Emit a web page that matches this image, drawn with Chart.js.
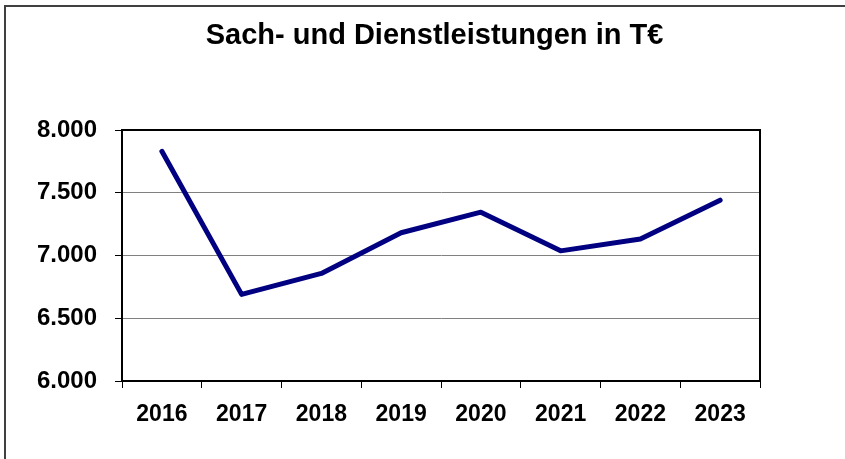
<!DOCTYPE html>
<html>
<head>
<meta charset="utf-8">
<script src="https://cdn.jsdelivr.net/npm/chart.js@4"></script>
<style>
  html, body { margin: 0; padding: 0; background: #fff; overflow: hidden; }
  /* a bit wider than the window so the title lands centred where the reference has it */
  #wrap { position: relative; width: 869px; height: 459px; }
</style>
</head>
<body>
<div id="wrap"><canvas id="c"></canvas></div>
<script>
const title = "Sach- und Dienstleistungen in T€";
const years = ["2016", "2017", "2018", "2019", "2020", "2021", "2022", "2023"];
const values = [7830, 6690, 6857, 7181, 7345, 7037, 7131, 7441];
const yMin = 6000;
const yMax = 8000;
const yStep = 500;

const fontFamily = "'Liberation Sans', Arial, sans-serif";

function fmt(v) {
  return String(v).replace(/\B(?=(\d{3})+(?!\d))/g, ".");
}

// outer frame (top + left) and the black box round the plot
const frame = {
  id: "frame",
  afterDraw(chart) {
    const ctx = chart.ctx;
    const a = chart.chartArea;
    ctx.save();
    ctx.strokeStyle = "#404040";
    ctx.lineWidth = 2;
    ctx.beginPath();
    ctx.moveTo(chart.width, 6);
    ctx.lineTo(5, 6);
    ctx.lineTo(5, 459);
    ctx.stroke();
    ctx.strokeStyle = "#000";
    ctx.lineWidth = 2;
    ctx.strokeRect(a.left, a.top, a.right - a.left, a.bottom - a.top);
    ctx.restore();
  },
};

new Chart(document.getElementById("c"), {
  type: "line",
  data: {
    labels: years,
    datasets: [
      {
        data: values,
        borderColor: "#000080",
        borderWidth: 5,
        pointRadius: 0,
        tension: 0,
        borderCapStyle: "round",
        borderJoinStyle: "round",
      },
    ],
  },
  options: {
    responsive: true,
    maintainAspectRatio: false,
    animation: false,
    layout: { padding: 0 },
    plugins: {
      legend: { display: false },
      tooltip: { enabled: false },
      title: {
        display: true,
        text: title,
        color: "#000",
        font: { family: fontFamily, size: 29, weight: "bold" },
        padding: { top: 18.5, bottom: 76.7 },
      },
    },
    scales: {
      x: {
        offset: true,
        grid: {
          offset: true,
          drawOnChartArea: false,
          drawTicks: true,
          tickLength: 7,
          tickColor: "#000",
        },
        border: { color: "#000", width: 2 },
        ticks: {
          color: "#000",
          padding: 13,
          maxRotation: 0,
          font: { family: fontFamily, size: 23, weight: "bold" },
        },
        afterFit(scale) {
          scale.height = 78;
        },
      },
      y: {
        min: yMin,
        max: yMax,
        grid: {
          color: (c) => (c.tick && c.tick.value === yMax ? "#000" : "#808080"),
          lineWidth: 1,
          tickLength: 7,
          tickColor: "#000",
        },
        border: { color: "#000", width: 2 },
        ticks: {
          stepSize: yStep,
          color: "#000",
          padding: 18,
          font: { family: fontFamily, size: 24, weight: "bold" },
          callback: (v) => fmt(v),
        },
        afterFit(scale) {
          scale.width = 122;
        },
      },
      // empty right-hand axis, only reserves the white space right of the plot
      yRight: {
        position: "right",
        display: true,
        grid: { display: false },
        border: { display: false },
        ticks: { display: false },
        afterFit(scale) {
          scale.width = 109;
        },
      },
    },
  },
  plugins: [frame],
});
</script>
</body>
</html>
